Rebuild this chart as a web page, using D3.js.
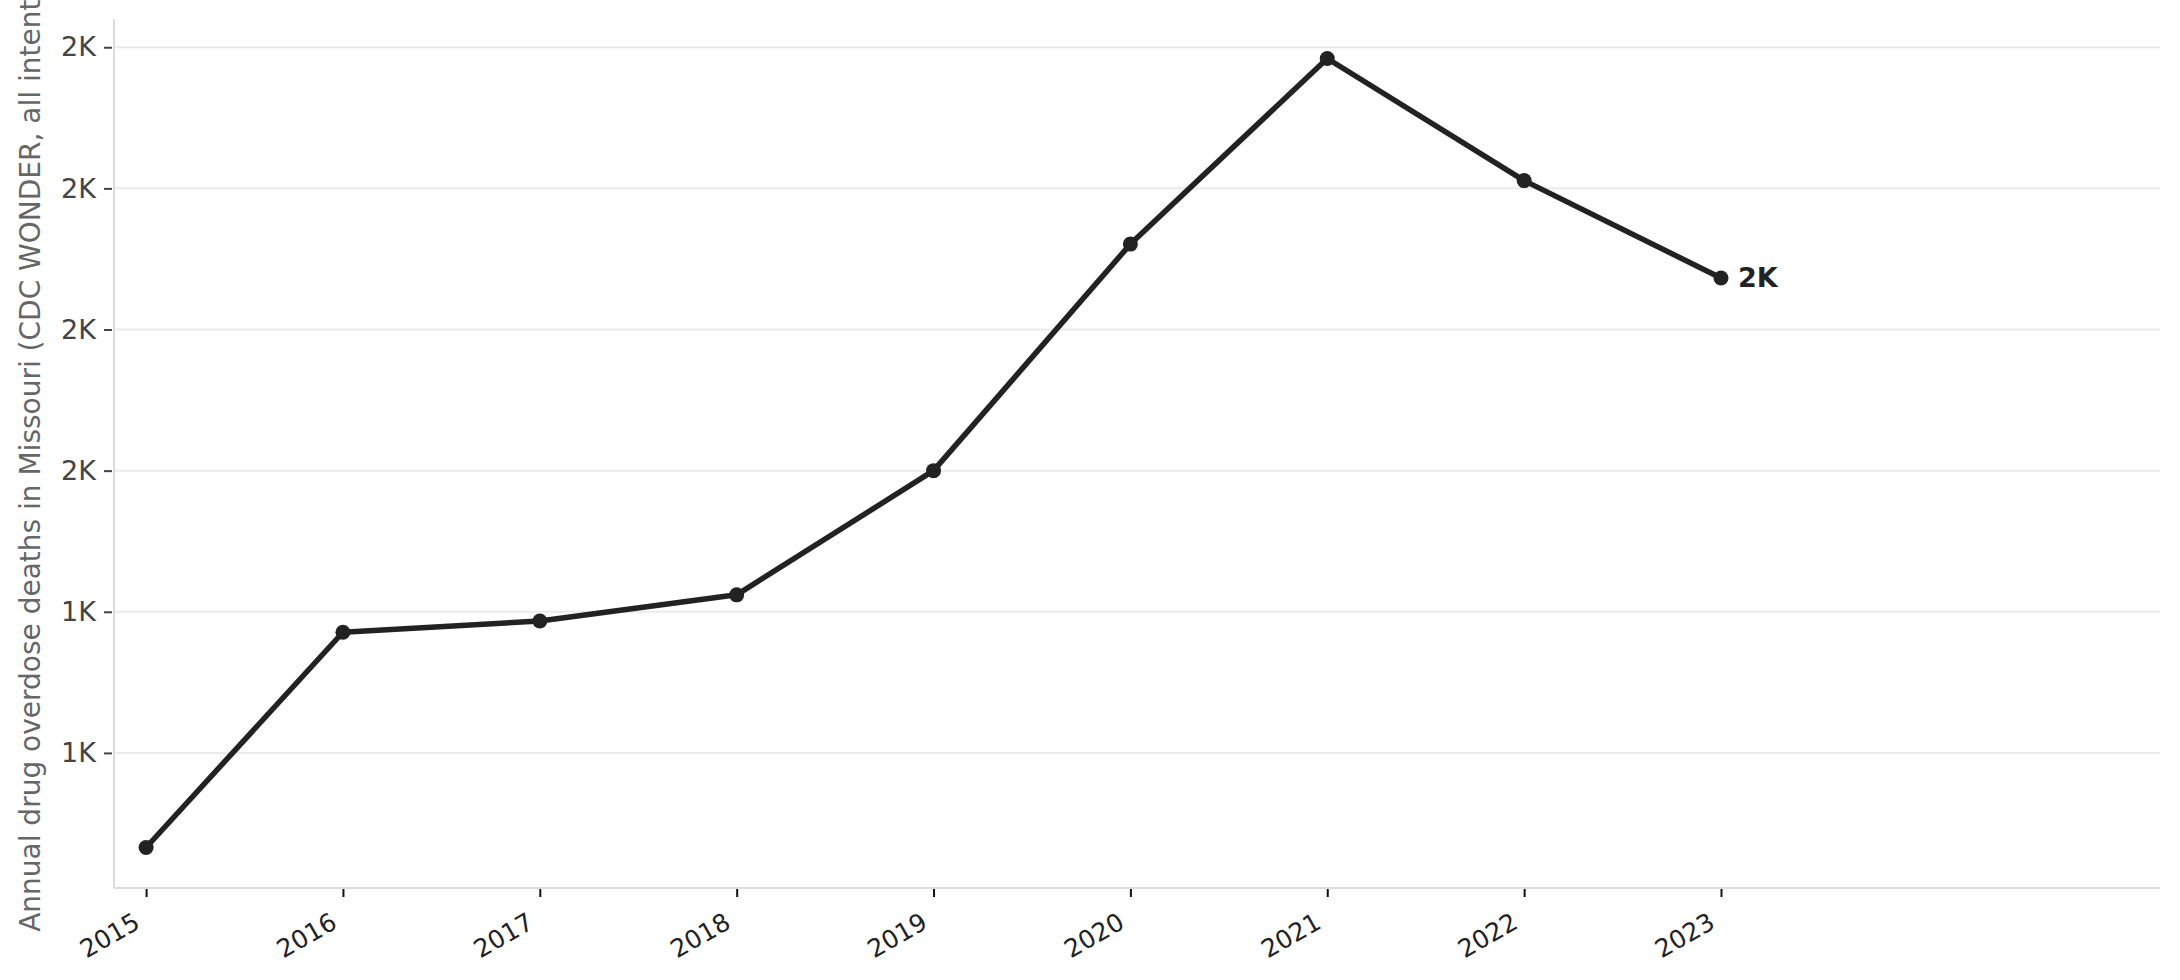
<!DOCTYPE html>
<html>
<head>
<meta charset="utf-8">
<script src="https://cdn.jsdelivr.net/npm/d3@7"></script>
<style>
  body { margin: 0; background: #fff; }
  text { font-family: "DejaVu Sans", sans-serif; }
</style>
</head>
<body>
<script>
// Chart data
let years = [2015, 2016, 2017, 2018, 2019, 2020, 2021, 2022, 2023];
let deaths = [1066, 1371, 1387, 1424, 1600, 1921, 2184, 2011, 1873];
let yTicks = [1200, 1400, 1600, 1800, 2000, 2200];
let yLabel = "Annual drug overdose deaths in Missouri (CDC WONDER, all intents)";

// Dimensions
let W = 2180, H = 980;
let margin = { top: 19, right: 20, bottom: 93, left: 114 };
let width = W - margin.left - margin.right;
let height = H - margin.top - margin.bottom;

let svg = d3.select("body")
  .append("svg")
    .attr("width", W)
    .attr("height", H);

let g = svg.append("g")
    .attr("transform", "translate(" + margin.left + "," + margin.top + ")");

let x = d3.scaleLinear().domain([2014.837, 2025.23]).range([0, width]);
let y = d3.scaleLinear().domain([1010, 2240]).range([height, 0]);

// Gridlines
g.selectAll(".grid")
  .data(yTicks).enter().append("line")
    .attr("x1", 0).attr("x2", width)
    .attr("y1", d => y(d)).attr("y2", d => y(d))
    .attr("stroke", "#ebebeb")
    .attr("stroke-width", 2);

// Y axis
let yAxis = g.append("g")
  .call(d3.axisLeft(y).tickValues(yTicks).tickSize(8).tickPadding(10)
    .tickFormat(d => Math.round(d / 1000) + "K"));
yAxis.select(".domain").remove();
yAxis.selectAll(".tick line").attr("stroke", "#444").attr("stroke-width", 2).attr("transform", "translate(-2,0)");
yAxis.selectAll(".tick text")
  .attr("fill", "#444")
  .style("font-size", "27px");

// X axis, labels rotated 30 degrees and anchored at their right end
let xAxis = g.append("g")
  .attr("transform", "translate(0," + (height + 1) + ")")
  .call(d3.axisBottom(x).tickValues(years).tickSize(9)
    .tickFormat(d => String(d)));
xAxis.select(".domain").remove();
xAxis.selectAll(".tick line").attr("stroke", "#111").attr("stroke-width", 2);
xAxis.selectAll(".tick text")
  .attr("fill", "#222")
  .style("font-size", "25px")
  .attr("text-anchor", "end")
  .attr("x", 0).attr("y", 0).attr("dy", 0)
  .attr("transform", "translate(-5,39) rotate(-30)");

// Spines
g.append("line")
  .attr("x1", 0).attr("x2", 0).attr("y1", 0).attr("y2", height + 1)
  .attr("stroke", "#dcdcdc").attr("stroke-width", 2);
g.append("line")
  .attr("x1", 0).attr("x2", width).attr("y1", height + 1).attr("y2", height + 1)
  .attr("stroke", "#dcdcdc").attr("stroke-width", 2);

// Y axis label
svg.append("text")
  .attr("transform", "translate(" + 40 + "," + (margin.top + height / 2) + ") rotate(-90)")
  .attr("text-anchor", "middle")
  .attr("fill", "#666")
  .style("font-size", "28px")
  .text(yLabel);

// Line
let line = d3.line()
  .x((d, i) => x(years[i]))
  .y(d => y(d));

g.append("path")
  .datum(deaths)
  .attr("fill", "none")
  .attr("stroke", "#222")
  .attr("stroke-width", 5.5)
  .attr("stroke-linejoin", "round")
  .attr("d", line);

g.selectAll(".dot")
  .data(deaths).enter().append("circle")
    .attr("cx", (d, i) => x(years[i]))
    .attr("cy", d => y(d))
    .attr("r", 7.5)
    .attr("fill", "#222");

// End label
let last = deaths.length - 1;
g.append("text")
  .attr("x", x(years[last]) + 17)
  .attr("y", y(deaths[last]))
  .attr("dy", "0.35em")
  .attr("fill", "#222")
  .style("font-size", "27px")
  .style("font-weight", "bold")
  .text(Math.round(deaths[last] / 1000) + "K");
</script>
</body>
</html>
